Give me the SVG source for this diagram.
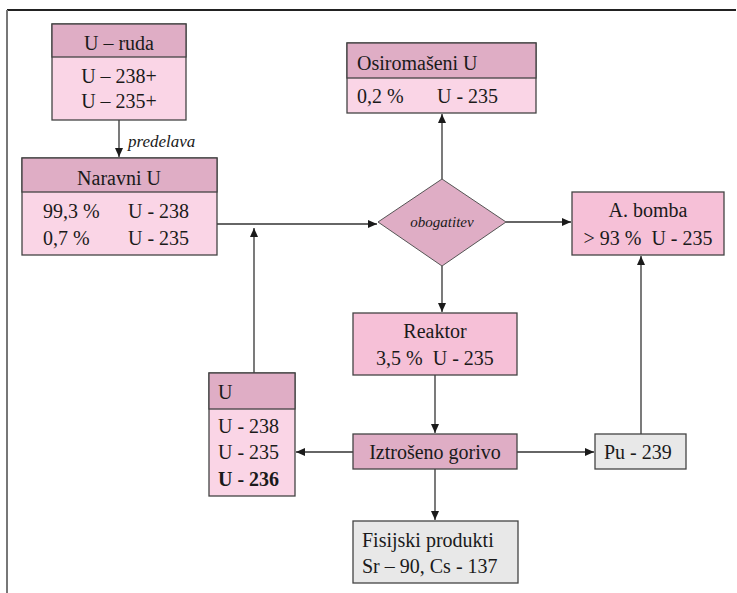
<svg xmlns="http://www.w3.org/2000/svg" width="737" height="593" viewBox="0 0 737 593" font-family="Times New Roman, Liberation Serif, serif">
<defs>
<marker id="ah" markerWidth="10" markerHeight="8" refX="9" refY="4" orient="auto" markerUnits="userSpaceOnUse">
<path d="M0,0 L9,4 L0,8 Z" fill="#1a1a1a"/>
</marker>
<style>
.box{stroke:#444;stroke-width:1.3}
.hd{fill:#dfadc5}
.bd{fill:#fad5e6}
.pk{fill:#f6c0d7}
.gr{fill:#e8e8e8}
.ln{stroke:#333;stroke-width:1.3;fill:none}
</style>
</defs>
<rect width="737" height="593" fill="#fff"/>
<g id="frame">
<line x1="7" y1="10" x2="736" y2="10" stroke="#222" stroke-width="2"/>
<line x1="7" y1="10" x2="7" y2="593" stroke="#777" stroke-width="2"/>
</g>
<g id="connectors" marker-end="url(#ah)">
<line class="ln" x1="119" y1="120" x2="119" y2="157"/>
<line class="ln" x1="217" y1="224" x2="377" y2="224"/>
<line class="ln" x1="254" y1="373" x2="254" y2="228"/>
<line class="ln" x1="442" y1="179" x2="442" y2="114"/>
<line class="ln" x1="506" y1="222" x2="571" y2="222"/>
<line class="ln" x1="442" y1="266" x2="442" y2="312"/>
<line class="ln" x1="435" y1="375" x2="435" y2="433"/>
<line class="ln" x1="353" y1="452" x2="296" y2="452"/>
<line class="ln" x1="517" y1="452" x2="594" y2="452"/>
<line class="ln" x1="435" y1="469" x2="435" y2="520"/>
<line class="ln" x1="641" y1="434" x2="641" y2="256"/>
</g>
<g id="labels">
<text font-family="Times New Roman" font-style="italic" font-size="17" fill="#1a1a1a" x="128" y="147">predelava</text>
</g>
<g id="ruda">
<rect class="box bd" x="52" y="24" width="134" height="96"/>
<rect class="box hd" x="52" y="24" width="134" height="33"/>
<text font-family="Times New Roman" font-size="20" fill="#1a1a1a" text-anchor="middle" x="119" y="50">U &#8211; ruda</text>
<text font-family="Times New Roman" font-size="20" fill="#1a1a1a" text-anchor="middle" x="119" y="83">U &#8211; 238+</text>
<text font-family="Times New Roman" font-size="20" fill="#1a1a1a" text-anchor="middle" x="119" y="108">U &#8211; 235+</text>
</g>
<g id="naravni">
<rect class="box bd" x="22" y="158" width="195" height="97"/>
<rect class="box hd" x="22" y="158" width="195" height="34"/>
<text font-family="Times New Roman" font-size="20" fill="#1a1a1a" text-anchor="middle" x="119" y="185">Naravni U</text>
<text font-family="Times New Roman" font-size="20" fill="#1a1a1a" x="43" y="218">99,3 %</text>
<text font-family="Times New Roman" font-size="20" fill="#1a1a1a" x="128" y="218">U - 238</text>
<text font-family="Times New Roman" font-size="20" fill="#1a1a1a" x="43" y="245">0,7 %</text>
<text font-family="Times New Roman" font-size="20" fill="#1a1a1a" x="128" y="245">U - 235</text>
</g>
<g id="osiromaseni">
<rect class="box bd" x="347" y="43" width="189" height="70"/>
<rect class="box hd" x="347" y="43" width="189" height="35"/>
<text font-family="Times New Roman" font-size="20" fill="#1a1a1a" x="357" y="70">Osiroma&#353;eni U</text>
<text font-family="Times New Roman" font-size="20" fill="#1a1a1a" x="357" y="103">0,2 %</text>
<text font-family="Times New Roman" font-size="20" fill="#1a1a1a" x="437" y="103">U - 235</text>
</g>
<g id="obogatitev">
<polygon class="hd" points="442,179 506,222 442,266 378,222" stroke="#555" stroke-width="1"/>
<text font-family="Times New Roman" font-style="italic" font-size="15" fill="#1a1a1a" text-anchor="middle" x="442" y="227">obogatitev</text>
</g>
<g id="bomba">
<rect class="box pk" x="572" y="192" width="152" height="63"/>
<text font-family="Times New Roman" font-size="20" fill="#1a1a1a" text-anchor="middle" x="648" y="217">A. bomba</text>
<text font-family="Times New Roman" font-size="20" fill="#1a1a1a" text-anchor="middle" x="648" y="245" xml:space="preserve">&gt; 93 %  U - 235</text>
</g>
<g id="reaktor">
<rect class="box pk" x="353" y="313" width="164" height="62"/>
<text font-family="Times New Roman" font-size="20" fill="#1a1a1a" text-anchor="middle" x="435" y="338">Reaktor</text>
<text font-family="Times New Roman" font-size="20" fill="#1a1a1a" text-anchor="middle" x="435" y="365" xml:space="preserve">3,5 %  U - 235</text>
</g>
<g id="iztroseno">
<rect class="box hd" x="353" y="434" width="164" height="35"/>
<text font-family="Times New Roman" font-size="20" fill="#1a1a1a" text-anchor="middle" x="435" y="459">Iztro&#353;eno gorivo</text>
</g>
<g id="ubox">
<rect class="box bd" x="209" y="373" width="86" height="123"/>
<rect class="box hd" x="209" y="373" width="86" height="36"/>
<text font-family="Times New Roman" font-size="20" fill="#1a1a1a" x="218" y="399">U</text>
<text font-family="Times New Roman" font-size="20" fill="#1a1a1a" x="218" y="433">U - 238</text>
<text font-family="Times New Roman" font-size="20" fill="#1a1a1a" x="218" y="459">U - 235</text>
<text font-family="Times New Roman" font-size="20" font-weight="bold" fill="#1a1a1a" x="218" y="486">U - 236</text>
</g>
<g id="pu">
<rect class="box gr" x="595" y="434" width="91" height="35"/>
<text font-family="Times New Roman" font-size="20" fill="#1a1a1a" x="604" y="459">Pu - 239</text>
</g>
<g id="fisijski">
<rect class="box gr" x="353" y="521" width="165" height="62"/>
<text font-family="Times New Roman" font-size="20" fill="#1a1a1a" x="362" y="547">Fisijski produkti</text>
<text font-family="Times New Roman" font-size="20" fill="#1a1a1a" x="362" y="573">Sr &#8211; 90, Cs - 137</text>
</g>
</svg>
